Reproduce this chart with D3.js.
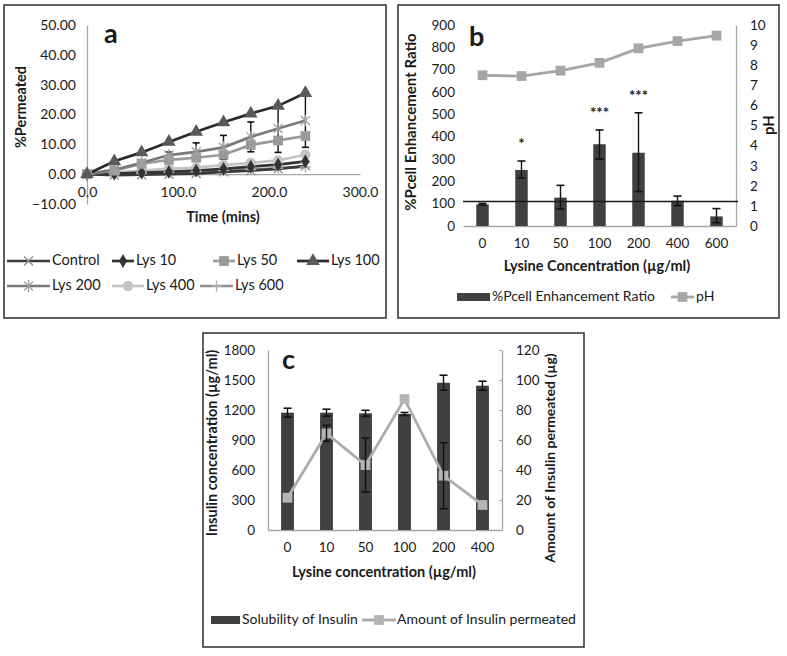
<!DOCTYPE html>
<html><head><meta charset="utf-8">
<script src="https://cdn.jsdelivr.net/npm/d3@7"></script>
<style>
body{margin:0;background:#fff}
svg{display:block}
text{font-family:Lato,'Open Sans',sans-serif;fill:#1a1a1a}
</style>
</head><body>
<svg id="chart" width="787" height="656"></svg>
<script>
// ---------- Panel a data ----------
const timeMins = [0, 30, 60, 90, 120, 150, 180, 210, 240];
const control = [0, -0.3, -0.2, 0, 0.2, 0.8, 1.2, 1.8, 2.8];
const lys10   = [0, 0.2, 0.5, 0.8, 1.2, 1.8, 2.5, 3.2, 4.3];
const lys50   = [0, 1.2, 3.5, 4.8, 5.5, 6.5, 9.8, 11.3, 12.8];
const lys100  = [0, 4.3, 7.3, 10.8, 14.2, 17.4, 20.3, 22.9, 27.2];
const lys200  = [0, 1.5, 3.8, 6.4, 7.5, 9.0, 12.5, 15.3, 18.0];
const lys400  = [0, 0.5, 1.2, 1.8, 2.2, 3.0, 3.8, 4.6, 6.5];
const lys600  = [0, 0, 0.3, 0.6, 0.9, 1.2, 1.5, 2.0, 2.4];
const lys200Err = [0, 0, 0, 1, 3, 4, 5, 8, 9];
const seriesNamesA = ["Control", "Lys 10", "Lys 50", "Lys 100", "Lys 200", "Lys 400", "Lys 600"];
const xTicksA = [0, 100, 200, 300];
const yTicksA = [-10, 0, 10, 20, 30, 40, 50];

// ---------- Panel b data ----------
const lysineB = ["0", "10", "50", "100", "200", "400", "600"];
const pcellRatio    = [97, 251, 127, 366, 328, 113, 43];
const pcellErrHigh  = [101, 291, 182, 430, 507, 134, 78];
const pcellErrLow   = [93, 215, 76, 300, 154, 91, 15];
const pHValues      = [7.5, 7.46, 7.73, 8.12, 8.84, 9.2, 9.47];
const significance  = ["", "*", "", "***", "***", "", ""];
const referenceLineB = 110;
const yTicksB  = [0, 100, 200, 300, 400, 500, 600, 700, 800, 900];
const yTicksB2 = [0, 1, 2, 3, 4, 5, 6, 7, 8, 9, 10];

// ---------- Panel c data ----------
const lysineC = ["0", "10", "50", "100", "200", "400"];
const solubility    = [1173, 1173, 1167, 1160, 1473, 1443];
const solubilityErr = [45, 35, 30, 15, 75, 45];
const permeated     = [21.5, 64.4, 43.3, 87.3, 36.2, 16.7];
const permeatedErr  = [0, 5.3, 18, 0, 22, 0];
const yTicksC  = [0, 300, 600, 900, 1200, 1500, 1800];
const yTicksC2 = [0, 20, 40, 60, 80, 100, 120];

// ---------- drawing ----------
const svg = d3.select("#chart");
svg.append("rect").attr("width", 787).attr("height", 656).attr("fill", "#fff");
const DARK = "#404040", AXIS = "#a6a6a6";
const TICK_FS = 13.5, TITLE_FS = 14.5, LEG_FS = 14.5;

function frame(x1, y1, x2, y2) {
  svg.append("rect").attr("x", x1).attr("y", y1).attr("width", x2 - x1).attr("height", y2 - y1)
    .attr("fill", "none").attr("stroke", "#3a3a3a").attr("stroke-width", 1.6);
}
function styleAxis(g, showDomain, fs) {
  g.selectAll("text").style("font-size", (fs || TICK_FS) + "px").attr("fill", "#1a1a1a")
    .style("font-family", "Lato,'Open Sans',sans-serif");
  g.select(".domain").attr("stroke", showDomain ? AXIS : "none").attr("stroke-width", 1.3);
  g.selectAll(".tick line").attr("stroke", AXIS);
}
function rotTitle(x, y, txt, fs) {
  svg.append("text").attr("transform", `translate(${x},${y}) rotate(-90)`)
    .attr("text-anchor", "middle").attr("dominant-baseline", "middle")
    .style("font-size", (fs || TITLE_FS) + "px").style("font-weight", "bold").text(txt);
}
function hTitle(x, y, txt) {
  svg.append("text").attr("x", x).attr("y", y).attr("text-anchor", "middle")
    .style("font-size", TITLE_FS + "px").style("font-weight", "bold").text(txt);
}
function letter(x, y, txt) {
  svg.append("text").attr("x", x).attr("y", y).style("font-size", "27px")
    .style("font-weight", "bold").text(txt);
}
function legText(g, x, y, txt, fs) {
  g.append("text").attr("x", x).attr("y", y).attr("dominant-baseline", "middle")
    .style("font-size", (fs || LEG_FS) + "px").text(txt);
}
function errBar(g, x, yTop, yBot, cap) {
  g.append("line").attr("x1", x).attr("x2", x).attr("y1", yTop).attr("y2", yBot)
    .attr("stroke", "#111").attr("stroke-width", 1.4);
  [yTop, yBot].forEach(y => g.append("line").attr("x1", x - cap).attr("x2", x + cap)
    .attr("y1", y).attr("y2", y).attr("stroke", "#111").attr("stroke-width", 1.6));
}
function marker(g, type, x, y, color) {
  const s = g.append("g").attr("transform", `translate(${x},${y})`);
  if (type === "x") {
    s.append("path").attr("d", "M-4.5,-4.5L4.5,4.5M-4.5,4.5L4.5,-4.5").attr("stroke", color).attr("stroke-width", 1.3);
  } else if (type === "star") {
    s.append("path").attr("d", "M-4.5,-4.5L4.5,4.5M-4.5,4.5L4.5,-4.5M0,-6L0,6").attr("stroke", color).attr("stroke-width", 1.3);
  } else if (type === "plus") {
    s.append("path").attr("d", "M-5.5,0L5.5,0M0,-5.5L0,5.5").attr("stroke", color).attr("stroke-width", 1.3);
  } else {
    const sym = {diamond: d3.symbolDiamond, square: d3.symbolSquare, triangle: d3.symbolTriangle, circle: d3.symbolCircle}[type];
    const size = {diamond: 55, square: 95, triangle: 80, circle: 85}[type];
    s.append("path").attr("d", d3.symbol(sym, size)()).attr("fill", color);
  }
}

// ================= Panel a =================
frame(4, 5, 386, 318);
const xA = d3.scaleLinear([0, 300], [87, 360]);
const yA = d3.scaleLinear([-10, 50], [204, 25]);
const gA = svg.append("g");
gA.append("g").attr("transform", `translate(${xA(0)},0)`)
  .call(d3.axisLeft(yA).tickValues(yTicksA).tickFormat(d3.format(".2f")).tickSize(0).tickPadding(11))
  .call(g => styleAxis(g, true, 14));
gA.append("g").attr("transform", `translate(0,${yA(0)})`)
  .call(d3.axisBottom(xA).tickValues(xTicksA).tickFormat(d3.format(".1f")).tickSize(0).tickPadding(13))
  .call(g => styleAxis(g, true, 14));

const seriesA = [
  {name: seriesNamesA[0], vals: control, line: "#3a3a3a", mark: "x", mcol: "#8c8c8c"},
  {name: seriesNamesA[1], vals: lys10, line: "#333333", mark: "diamond", mcol: "#333333"},
  {name: seriesNamesA[2], vals: lys50, line: "#9a9a9a", mark: "square", mcol: "#9a9a9a"},
  {name: seriesNamesA[3], vals: lys100, line: "#2a2a2a", mark: "triangle", mcol: "#5a5a5a"},
  {name: seriesNamesA[4], vals: lys200, line: "#7a7a7a", mark: "star", mcol: "#a0a0a0"},
  {name: seriesNamesA[5], vals: lys400, line: "#c4c4c4", mark: "circle", mcol: "#c4c4c4"},
  {name: seriesNamesA[6], vals: lys600, line: "#8f8f8f", mark: "plus", mcol: "#b0b0b0"}
];
const lineA = d3.line().x((d, i) => xA(timeMins[i])).y(d => yA(d));
const drawOrder = [6, 5, 0, 1, 2, 4, 3];
drawOrder.forEach(k => {
  const s = seriesA[k];
  gA.append("path").attr("d", lineA(s.vals)).attr("fill", "none").attr("stroke", s.line).attr("stroke-width", 2.7);
});
timeMins.forEach((t, i) => {
  if (lys200Err[i] > 0) errBar(gA, xA(t), yA(lys200[i] + lys200Err[i]), yA(lys200[i] - lys200Err[i]), 3.5);
});
drawOrder.forEach(k => {
  const s = seriesA[k];
  s.vals.forEach((v, i) => marker(gA, s.mark, xA(timeMins[i]), yA(v), s.mcol));
});
letter(104, 43, "a");
rotTitle(22, 107, "%Permeated");
hTitle(223, 222, "Time (mins)");
const legA = [
  {x1: 7, x2: 50, tx: 52, y: 261}, {x1: 112, x2: 134, tx: 136, y: 261},
  {x1: 213, x2: 235, tx: 237, y: 261}, {x1: 297, x2: 329, tx: 331, y: 261},
  {x1: 7, x2: 50, tx: 52, y: 286}, {x1: 112, x2: 144, tx: 146, y: 286},
  {x1: 200, x2: 233, tx: 235, y: 286}
];
seriesA.forEach((s, k) => {
  const L = legA[k];
  gA.append("line").attr("x1", L.x1).attr("x2", L.x2).attr("y1", L.y).attr("y2", L.y)
    .attr("stroke", s.line).attr("stroke-width", 2.7);
  marker(gA, s.mark, (L.x1 + L.x2) / 2, L.y, s.mcol);
  legText(gA, L.tx, L.y, s.name);
});

// ================= Panel b =================
frame(398, 5, 779, 318);
const xB = d3.scaleBand(lysineB, [463, 736]);
const yB = d3.scaleLinear([0, 900], [226, 25]);
const yB2 = d3.scaleLinear([0, 10], [226, 25]);
const gB = svg.append("g");
gB.append("g").attr("transform", "translate(463,0)")
  .call(d3.axisLeft(yB).tickValues(yTicksB).tickSize(0).tickPadding(8))
  .call(g => styleAxis(g, false));
gB.append("g").attr("transform", "translate(736,0)")
  .call(d3.axisRight(yB2).tickValues(yTicksB2).tickSize(0).tickPadding(14))
  .call(g => styleAxis(g, true));
gB.append("g").attr("transform", "translate(0,226)")
  .call(d3.axisBottom(xB).tickSize(0).tickPadding(12))
  .call(g => styleAxis(g, true));
const bwB = xB.bandwidth() * 0.32;
gB.selectAll("rect.bar").data(pcellRatio).join("rect").attr("class", "bar")
  .attr("x", (d, i) => xB(lysineB[i]) + xB.bandwidth() / 2 - bwB / 2)
  .attr("width", bwB).attr("y", d => yB(d)).attr("height", d => yB(0) - yB(d)).attr("fill", DARK);
lysineB.forEach((c, i) => {
  const cx = xB(c) + xB.bandwidth() / 2;
  errBar(gB, cx, yB(pcellErrHigh[i]), yB(pcellErrLow[i]), 4);
  if (significance[i]) gB.append("text").attr("x", cx).attr("y", yB(pcellErrHigh[i]) - 12)
    .attr("text-anchor", "middle").style("font-size", "15px").style("font-weight", "bold").text(significance[i]);
});
gB.append("line").attr("x1", 463).attr("x2", 738).attr("y1", yB(referenceLineB)).attr("y2", yB(referenceLineB))
  .attr("stroke", "#1a1a1a").attr("stroke-width", 1.4);
const lineB = d3.line().x((d, i) => xB(lysineB[i]) + xB.bandwidth() / 2).y(d => yB2(d));
gB.append("path").attr("d", lineB(pHValues)).attr("fill", "none").attr("stroke", "#a6a6a6").attr("stroke-width", 2.8);
pHValues.forEach((v, i) => marker(gB, "square", xB(lysineB[i]) + xB.bandwidth() / 2, yB2(v), "#a6a6a6"));
letter(469, 46, "b");
rotTitle(412, 122, "%Pcell Enhancement Ratio", 15);
rotTitle(770, 125, "pH", 15);
hTitle(597, 271, "Lysine Concentration (µg/ml)");
gB.append("rect").attr("x", 457).attr("y", 293).attr("width", 33).attr("height", 8).attr("fill", DARK);
legText(gB, 492, 297, "%Pcell Enhancement Ratio", 14);
gB.append("line").attr("x1", 671).attr("x2", 694).attr("y1", 297).attr("y2", 297).attr("stroke", "#a6a6a6").attr("stroke-width", 2.8);
marker(gB, "square", 682.5, 297, "#a6a6a6");
legText(gB, 696, 297, "pH", 14);

// ================= Panel c =================
frame(203, 333, 584, 647);
const xC = d3.scaleBand(lysineC, [268, 502]);
const yC = d3.scaleLinear([0, 1800], [530, 350]);
const yC2 = d3.scaleLinear([0, 120], [530, 350]);
const gC = svg.append("g");
gC.append("g").attr("transform", "translate(268,0)")
  .call(d3.axisLeft(yC).tickValues(yTicksC).tickFormat(d3.format("d")).tickSize(0).tickPadding(13))
  .call(g => styleAxis(g, true));
gC.append("g").attr("transform", "translate(502,0)")
  .call(d3.axisRight(yC2).tickValues(yTicksC2).tickFormat(d3.format("d")).tickSizeInner(-3).tickSizeOuter(0).tickPadding(14))
  .call(g => styleAxis(g, true));
gC.append("g").attr("transform", "translate(0,530)")
  .call(d3.axisBottom(xC).tickSize(0).tickPadding(12))
  .call(g => styleAxis(g, true));
const bwC = xC.bandwidth() * 0.33;
gC.selectAll("rect.bar").data(solubility).join("rect").attr("class", "bar")
  .attr("x", (d, i) => xC(lysineC[i]) + xC.bandwidth() / 2 - bwC / 2)
  .attr("width", bwC).attr("y", d => yC(d)).attr("height", d => yC(0) - yC(d)).attr("fill", DARK);
lysineC.forEach((c, i) => {
  const cx = xC(c) + xC.bandwidth() / 2;
  errBar(gC, cx, yC(solubility[i] + solubilityErr[i]), yC(solubility[i] - solubilityErr[i]), 4);
});
const lineC = d3.line().x((d, i) => xC(lysineC[i]) + xC.bandwidth() / 2).y(d => yC2(d));
gC.append("path").attr("d", lineC(permeated)).attr("fill", "none").attr("stroke", "#adadad").attr("stroke-width", 2.8);
lysineC.forEach((c, i) => {
  const cx = xC(c) + xC.bandwidth() / 2;
  marker(gC, "square", cx, yC2(permeated[i]), "#b5b5b5");
  if (permeatedErr[i] > 0) errBar(gC, cx, yC2(permeated[i] + permeatedErr[i]), yC2(permeated[i] - permeatedErr[i]), 4);
});
letter(282, 369, "c");
rotTitle(213, 443, "Insulin concentration (µg/ml)", 14.5);
rotTitle(551, 458, "Amount of Insulin permeated (µg)", 14);
hTitle(384, 577, "Lysine concentration (µg/ml)");
gC.append("rect").attr("x", 211).attr("y", 616).attr("width", 29).attr("height", 8).attr("fill", DARK);
legText(gC, 242, 620, "Solubility of Insulin", 14);
gC.append("line").attr("x1", 362).attr("x2", 396).attr("y1", 620).attr("y2", 620).attr("stroke", "#adadad").attr("stroke-width", 2.8);
marker(gC, "square", 379, 620, "#b5b5b5");
legText(gC, 397, 620, "Amount of Insulin permeated", 14);
</script>
</body></html>
